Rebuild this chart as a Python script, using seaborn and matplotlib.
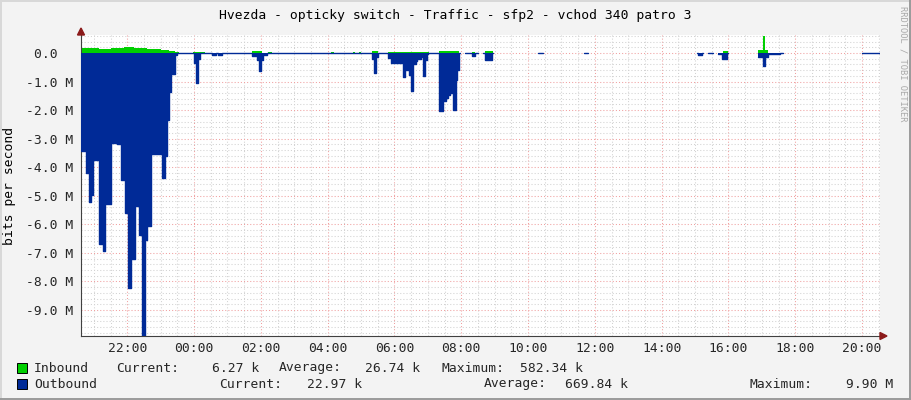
import numpy as np
import pandas as pd
import matplotlib
matplotlib.use("Agg")
import matplotlib.pyplot as plt
import seaborn as sns
from matplotlib.patches import Polygon, Rectangle
from matplotlib.lines import Line2D

# ---------------- data ----------------
TITLE = "Hvezda - opticky switch - Traffic - sfp2 - vchod 340 patro 3"
Y_LABEL = "bits per second"
WATERMARK = "RRDTOOL / TOBI OETIKER"

# time axis in clock hours (24+ = next day)
x_ticks = [22, 24, 26, 28, 30, 32, 34, 36, 38, 40, 42, 44]
x_tick_labels = ["22:00", "00:00", "02:00", "04:00", "06:00", "08:00",
                 "10:00", "12:00", "14:00", "16:00", "18:00", "20:00"]
y_ticks = [0, -1, -2, -3, -4, -5, -6, -7, -8, -9]
y_tick_labels = ["0.0  ", "-1.0 M", "-2.0 M", "-3.0 M", "-4.0 M", "-5.0 M",
                 "-6.0 M", "-7.0 M", "-8.0 M", "-9.0 M"]
T_START, T_END = 20.614, 44.536
Y_MIN, Y_MAX = -9.912, 0.630

series_names = ["Inbound", "Outbound"]
series_colors = ["#00CF00", "#002A97"]
inbound_stats = ["6.27 k", "26.74 k", "582.34 k"]
outbound_stats = ["22.97 k", "669.84 k", "9.90 M"]

# outbound (Mbit/s, drawn negative); each value holds until the next time; NaN = no data
out_t = [20.61, 20.76, 20.84, 20.90, 20.98, 21.14, 21.26, 21.33, 21.50, 21.68,
         21.81, 21.93, 22.03, 22.10, 22.22, 22.36, 22.43, 22.52, 22.60, 22.70,
         23.03, 23.14, 23.20, 23.26, 23.31, 23.43, 23.49, 24.01, 24.06, 24.12,
         24.18, 24.53, 24.65, 24.72, 24.84, 25.72, 25.87, 25.93, 25.99, 26.07,
         26.17, 29.32, 29.38, 29.44, 29.50, 29.81, 29.91, 30.25, 30.31, 30.43,
         30.50, 30.56, 30.63, 30.68, 30.78, 30.84, 30.92, 30.97, 31.01, 31.33,
         31.46, 31.53, 31.60, 31.65, 31.76, 31.83, 31.88, 31.93, 31.97, 32.11,
         32.31, 32.41, 32.51, 32.65, 32.71, 32.91, 32.95, 34.29, 34.44, 35.67,
         35.79, 39.05, 39.08, 39.20, 39.23, 39.38, 39.53, 39.68, 39.80, 39.95,
         39.98, 40.88, 41.02, 41.10, 41.18, 41.54, 41.63, 44.00]
out_v = [-3.45, -4.20, -5.23, -4.97, -3.74, -6.70, -6.95, -5.30, -3.15, -3.20,
         -4.44, -5.60, -8.24, -7.20, -5.37, -6.37, -9.90, -6.54, -6.07, -3.55,
         -4.38, -3.60, -2.35, -1.35, -0.75, -0.06, -0.01, -0.35, -1.05, -0.20,
         -0.01, -0.06, -0.01, -0.06, -0.01, -0.12, -0.23, -0.64, -0.23, -0.06,
         -0.01, -0.20, -0.69, -0.13, -0.01, -0.17, -0.34, -0.83, -0.60, -0.77,
         -1.32, -0.40, -0.28, -0.20, -0.13, -0.80, -0.25, -0.05, -0.01, -2.02,
         -1.67, -1.59, -1.47, -1.41, -2.00, -0.95, -0.60, -0.01, np.nan, -0.01,
         -0.10, -0.01, np.nan, -0.01, -0.25, -0.01, np.nan, -0.01, np.nan, -0.01,
         np.nan, -0.01, -0.08, -0.01, np.nan, -0.01, np.nan, -0.05, -0.22, -0.01,
         np.nan, -0.15, -0.46, -0.15, -0.03, -0.01, np.nan, -0.01]

# inbound (Mbit/s, drawn positive)
in_t = [20.61, 21.14, 21.50, 21.90, 22.20, 22.60, 23.00, 23.26, 23.43, 23.55,
        23.97, 24.33, 25.72, 26.02, 26.21, 26.33, 28.10, 28.19, 28.75, 28.83,
        28.93, 29.00, 29.32, 29.50, 29.81, 31.03, 31.33, 31.93, 32.31, 32.41,
        32.71, 32.95, 39.85, 39.98, 40.88, 41.02, 41.10, 41.18]
in_v = [0.17, 0.15, 0.17, 0.21, 0.17, 0.15, 0.12, 0.08, 0.03, 0.00,
        0.05, 0.00, 0.08, 0.00, 0.05, 0.00, 0.04, 0.00, 0.04, 0.00,
        0.04, 0.00, 0.07, 0.00, 0.05, 0.00, 0.06, 0.00, 0.05, 0.00,
        0.07, 0.00, 0.06, 0.00, 0.10, 0.58, 0.10, 0.00]


def expand_steps(t, v, t_end):
    t = list(t) + [t_end]
    xs, ys = [], []
    for i in range(len(v)):
        xs += [t[i], t[i + 1]]
        ys += [v[i], v[i]]
    return np.array(xs, float), np.array(ys, float)


# ---------------- figure ----------------
W, H = 911, 400
sns.set_theme(style="white")
plt.rcParams["font.family"] = ["DejaVu Sans Mono", "DejaVu Sans"]
FS = 9.4


def fx(px):
    return px / W


def fy(py):
    return 1 - py / H


fig = plt.figure(figsize=(W / 100, H / 100), dpi=100)
fig.patch.set_facecolor("#F3F3F3")
ax = fig.add_axes([fx(81), fy(336), (880 - 81) / W, (336 - 35) / H])
ax.set_facecolor("white")
ax.set_xlim(T_START, T_END)
ax.set_ylim(Y_MIN, Y_MAX)
ax.set_axisbelow(True)

# grid
ax.set_xticks(x_ticks)
ax.set_xticks(np.arange(21.0, 44.6, 0.5), minor=True)
ax.set_yticks(y_ticks)
ax.set_yticks(np.arange(-9.8, 0.61, 0.2), minor=True)
ax.grid(which="minor", color="#D2D2D2", linestyle=(0, (1, 2)), linewidth=0.75)
ax.grid(which="major", color="#F0A0A0", linestyle=(0, (1, 2)), linewidth=0.75)
ax.set_xticklabels(x_tick_labels, fontsize=FS)
ax.set_yticklabels(y_tick_labels, fontsize=FS)
ax.tick_params(axis="both", which="both", length=0)
ax.tick_params(axis="y", pad=5.8)
ax.tick_params(axis="x", pad=4.0)
for s in ["top", "right"]:
    ax.spines[s].set_visible(False)
for s in ["left", "bottom"]:
    ax.spines[s].set_color("#404040")
    ax.spines[s].set_linewidth(0.8)

# inbound area
xi, yi = expand_steps(in_t, in_v, T_END)
ax.fill_between(xi, 0, yi, color=series_colors[0], linewidth=0, zorder=2)

# outbound area + outline
xo, yo = expand_steps(out_t, out_v, T_END)
ax.fill_between(xo, 0, yo, color=series_colors[1], linewidth=0, zorder=3)
seg = np.cumsum(np.isnan(yo))
df = pd.DataFrame({"t": xo, "v": yo, "seg": seg}).dropna()
sns.lineplot(data=df, x="t", y="v", units="seg", estimator=None, sort=False,
             color=series_colors[1], linewidth=1.0, legend=False, ax=ax, zorder=4)
ax.set_xlabel("")
ax.set_ylabel("")

# arrows
fig.patches.append(Polygon([[fx(77.5), fy(35)], [fx(84.5), fy(35)], [fx(81), fy(28)]],
                           closed=True, transform=fig.transFigure, color="#8B1A1A"))
fig.patches.append(Polygon([[fx(880), fy(332.5)], [fx(880), fy(339.5)], [fx(887), fy(336)]],
                           closed=True, transform=fig.transFigure, color="#8B1A1A"))

# texts
fig.text(fx(455.5), fy(15), TITLE, ha="center", va="center", fontsize=FS, color="black")
fig.text(fx(10), fy(185.5), Y_LABEL, ha="center", va="center", rotation=90,
         fontsize=FS, color="black")
fig.text(fx(903), fy(6), WATERMARK, ha="center", va="top", rotation=270,
         fontsize=6.3, color="#A8A8A8")

# legend
rows = [(368, series_names[0], series_colors[0], inbound_stats,
         [116, 279, 441], [259, 420, 583]),
        (384, series_names[1], series_colors[1], outbound_stats,
         [219, 484, 749], [362, 628, 893])]
labels = ["Current:", "Average:", "Maximum:"]
for yy, name, col, stats, lx, rx in rows:
    fig.patches.append(Rectangle((fx(17), fy(yy + 5)), 10 / W, 10 / H,
                                 transform=fig.transFigure, facecolor=col,
                                 edgecolor="black", linewidth=0.7))
    fig.text(fx(34), fy(yy), name, ha="left", va="center", fontsize=FS)
    for lab, l, val, r in zip(labels, lx, stats, rx):
        fig.text(fx(l), fy(yy), lab, ha="left", va="center", fontsize=FS)
        fig.text(fx(r), fy(yy), val, ha="right", va="center", fontsize=FS)

# outer frame
fig.add_artist(Line2D([0, 1], [fy(0.5), fy(0.5)], transform=fig.transFigure, color="#D8D8D8", lw=1.4))
fig.add_artist(Line2D([fx(0.5), fx(0.5)], [0, 1], transform=fig.transFigure, color="#D8D8D8", lw=1.4))
fig.add_artist(Line2D([0, 1], [fy(399), fy(399)], transform=fig.transFigure, color="#9A9A9A", lw=1.4))
fig.add_artist(Line2D([fx(910), fx(910)], [0, 1], transform=fig.transFigure, color="#9A9A9A", lw=1.4))

fig.savefig("out.png", dpi=100, facecolor=fig.get_facecolor())
